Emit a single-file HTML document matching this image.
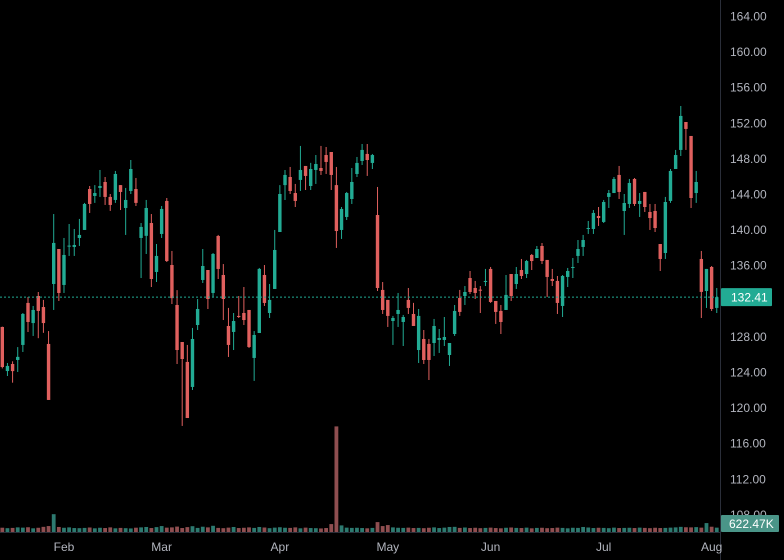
<!DOCTYPE html>
<html><head><meta charset="utf-8">
<style>
html,body{margin:0;padding:0;background:#000;}
svg{display:block;font-family:"Liberation Sans",sans-serif;}
</style></head>
<body>
<svg id="chart" width="784" height="560" viewBox="0 0 784 560" xmlns="http://www.w3.org/2000/svg">
<rect x="0" y="0" width="784" height="560" fill="#000"/>
<g id="vol"></g>
<g id="candles"></g>
<line x1="0" x2="720" y1="296.6" y2="296.6" id="lastline" stroke="#22ab94" stroke-width="1" stroke-dasharray="2,2"/>
<line x1="720.5" x2="720.5" y1="0" y2="560" stroke="#2a2e39"/>
<line x1="0" x2="720" y1="532.5" y2="532.5" stroke="#2a2e39"/>
<g id="yaxis"></g>
<g id="xaxis"></g>
<g>
<rect id="lastbox" x="721" y="288" width="51" height="18" fill="#22ab94" rx="1"/>
<text id="lasttext" x="731" y="301.5" fill="#fff" font-size="12">132.41</text>
</g>
<g>
<rect x="721" y="515" width="58" height="17" fill="#4a9588" rx="1"/>
<text x="729" y="528" fill="#fff" font-size="12">622.47K</text>
</g>
</svg>
<script>
const opens=[129.06,124.11,124.9,125.35,127.04,131.76,129.5,132.54,131.3,127.15,133.89,137.82,133.78,138.1,138.05,139.06,139.96,144.56,143.78,144.68,145.35,143.67,143.33,145.0,142.43,144.34,144.56,139.06,139.3,140.74,135.24,139.51,143.22,136.02,131.53,127.37,125.13,122.32,129.28,134.34,135.46,132.88,139.28,134.9,129.17,128.5,130.3,130.63,130.97,125.58,128.38,134.9,130.63,133.33,139.73,145.0,145.91,144.11,145.58,147.15,144.9,146.7,146.92,148.38,148.72,145.0,139.96,141.42,143.44,146.25,147.71,148.5,147.49,141.64,133.22,132.1,129.73,130.52,129.62,132.1,130.52,126.47,127.71,127.15,127.26,127.6,127.6,125.91,128.27,132.32,132.54,134.56,133.44,133.25,134.11,135.58,131.98,130.86,130.97,135.01,133.89,135.46,135.01,137.15,136.81,138.16,136.59,134.45,134.23,131.42,134.68,135.69,137.04,138.05,140.07,140.07,141.53,140.86,143.67,144.11,146.14,142.09,142.88,145.69,142.88,144.23,141.98,142.09,138.38,137.37,143.22,146.81,148.95,152.09,150.52,144.11,136.7,133.1,135.8,131.2];
const highs=[129.1,125.01,125.2,126.8,130.63,132.43,131.42,132.99,132.1,128.6,141.75,137.82,139.06,140.63,140.07,141.2,143.0,144.9,145.0,146.7,145.91,144.0,146.59,145.0,144.68,147.82,145.8,140.74,143.33,141.75,138.38,142.65,143.55,137.6,133.2,127.37,127.04,128.95,132.2,137.82,135.46,137.37,139.4,136.13,131.2,130.63,132.54,133.55,130.97,128.6,135.69,136.02,133.89,139.96,145.0,146.7,147.04,145.13,149.4,147.15,147.5,148.38,149.4,149.28,148.72,147.04,142.54,144.23,146.92,148.16,149.62,149.62,148.5,144.79,134.11,132.1,130.3,132.88,130.41,133.44,131.76,131.08,128.72,127.71,129.96,128.83,130.18,127.26,131.53,133.22,133.66,135.35,134.23,133.66,135.58,135.8,131.98,131.53,134.9,135.01,135.8,136.7,136.59,137.26,138.16,138.5,136.59,135.58,134.79,134.9,135.69,136.81,138.83,139.4,140.97,142.2,142.54,143.33,144.45,145.91,147.15,144.0,145.69,145.8,144.11,144.23,142.88,142.88,138.38,143.67,146.81,148.95,153.89,152.09,150.52,146.59,137.6,135.58,135.91,133.44];
const lows=[124.4,123.55,122.8,124.0,126.25,128.5,128.05,127.8,128.4,120.86,130.97,131.98,132.88,137.04,137.04,138.16,139.96,141.87,143.0,143.67,142.77,142.1,143.0,142.2,139.4,144.0,142.65,134.56,137.26,133.55,134.11,139.06,136.36,131.64,124.9,117.94,118.83,121.98,128.72,134.0,131.08,132.43,134.45,129.84,125.69,126.47,130.07,129.28,126.7,123.0,128.38,131.42,130.07,133.33,139.73,143.33,144.0,142.54,144.34,144.45,144.45,145.13,146.14,146.25,144.45,137.94,138.95,141.08,142.88,145.91,147.26,146.03,146.81,133.1,130.52,129.06,127.04,129.06,126.92,130.52,129.17,125.01,124.9,123.1,125.8,126.14,126.92,124.68,128.05,130.3,131.53,132.77,132.2,130.63,133.66,131.76,129.4,128.27,130.97,131.98,133.33,134.45,134.56,135.46,136.81,136.13,132.43,133.66,130.52,130.18,133.55,134.56,136.25,137.04,139.51,139.51,140.41,140.74,142.43,144.11,143.44,139.4,142.43,142.65,141.42,141.98,139.96,139.73,135.35,136.7,143.0,146.81,148.27,148.95,142.43,143.0,130.07,131.2,130.86,130.63];
const closes=[124.56,124.68,124.1,125.7,130.52,129.62,130.97,130.86,129.5,120.86,138.5,132.88,137.15,138.2,138.27,139.4,142.88,142.88,144.11,144.9,143.67,142.77,146.25,144.23,143.33,146.81,143.0,140.3,142.43,134.45,137.04,142.32,136.47,132.3,126.47,125.46,118.83,127.71,131.08,135.91,132.2,137.26,135.58,132.2,127.04,129.73,130.18,129.84,126.81,128.16,135.58,131.76,132.1,137.71,144.0,146.14,144.34,143.22,146.7,146.03,146.81,147.37,146.59,147.6,146.14,139.84,142.32,144.11,145.35,147.49,148.95,147.82,148.38,133.44,130.97,130.3,130.07,130.97,130.18,131.2,129.17,130.3,125.35,125.35,129.17,127.82,127.93,127.26,130.86,130.75,132.99,132.99,132.88,133.17,134.23,131.87,130.75,129.62,132.66,132.54,135.01,134.79,136.47,136.47,137.82,136.47,134.68,134.23,131.76,134.79,135.35,135.8,137.82,138.83,140.18,141.87,141.3,143.1,144.11,145.69,144.23,142.99,145.24,142.88,143.22,142.54,141.3,140.18,136.7,143.1,146.59,148.38,152.77,151.31,143.55,145.35,133.0,135.58,131.08,132.41];
const volumes=[650,580,620,700,660,720,560,640,780,900,2700,760,640,700,600,580,620,680,560,640,600,700,560,620,580,540,650,700,760,600,740,900,660,700,820,600,740,880,620,800,700,940,620,580,660,760,600,640,700,620,760,680,580,660,720,640,620,700,560,660,600,580,540,600,1200,16000,1000,660,620,640,600,560,620,1500,900,1050,700,640,620,660,600,620,580,640,700,600,660,760,780,620,680,600,640,580,620,660,600,560,640,680,620,600,660,560,620,640,580,600,660,620,560,640,620,760,680,600,640,620,580,660,600,620,640,600,660,620,580,640,600,620,660,700,780,720,700,740,660,1350,800,660,622.47];
const yTicks=[164,160,156,152,148,144,140,136,132,128,124,120,116,112,108];
const monthLabels=["Feb","Mar","Apr","May","Jun","Jul","Aug"];
const monthIndex=[12,31,54,75,95,117,138];

const NS="http://www.w3.org/2000/svg";
function yScale(p){return 16+(164-p)*8.9;}
function xScale(i){return 2.3+i*5.14;}
function vScale(v){return v*0.0066;}
const UP="#22ab94",DN="#e0605e",VUP="#2d7a70",VDN="#8f4e50";
function mk(tag,attrs,parent){const e=document.createElementNS(NS,tag);for(const k in attrs)e.setAttribute(k,attrs[k]);parent.appendChild(e);return e;}

const cg=document.getElementById('candles');
const vg=document.getElementById('vol');
for(let i=0;i<opens.length;i++){
  const up=closes[i]>=opens[i];
  const col=up?UP:DN;
  const x=xScale(i);
  const g=mk('g',{},cg);
  
  
  mk('line',{x1:x,x2:x,y1:yScale(highs[i]),y2:yScale(lows[i]),stroke:col,'stroke-width':1},g);
  const t=yScale(Math.max(opens[i],closes[i]));
  const b=yScale(Math.min(opens[i],closes[i]));
  mk('rect',{x:x-1.7,y:t,width:3.4,height:Math.max(1,b-t),fill:col},g);
  const h=vScale(volumes[i]);
  const vb=mk('rect',{x:x-1.9,y:532-h,width:3.8,height:h,fill:up?VUP:VDN},vg);
  
  
}
const last=closes[closes.length-1];
const ly=yScale(last);
const ll=document.getElementById('lastline');ll.setAttribute('y1',ly);ll.setAttribute('y2',ly);
document.getElementById('lastbox').setAttribute('y',ly-9);
document.getElementById('lasttext').setAttribute('y',ly+4.5);
document.getElementById('lasttext').textContent=last.toFixed(2);

const ya=document.getElementById('yaxis');
for(const v of yTicks){
  const t=mk('text',{x:730,y:yScale(v)+4.5,fill:'#b2b5be','font-size':12},ya);
  
  
  t.textContent=v.toFixed(2);
}
const xa=document.getElementById('xaxis');
for(let k=0;k<monthLabels.length;k++){
  const t=mk('text',{x:xScale(monthIndex[k]),y:551,fill:'#b2b5be','font-size':12,'text-anchor':'middle'},xa);
  
  
  t.textContent=monthLabels[k];
}
</script>
</body></html>
